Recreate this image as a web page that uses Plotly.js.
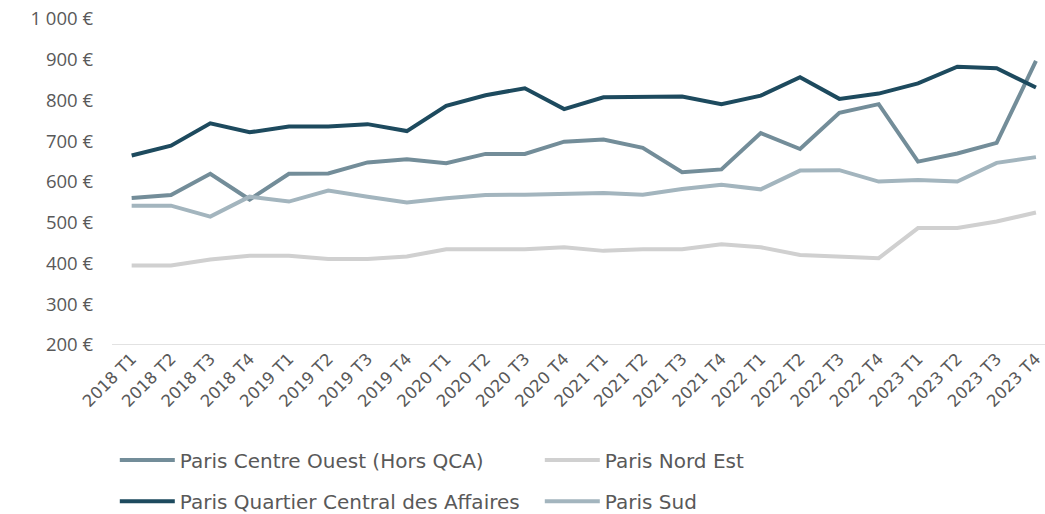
<!DOCTYPE html>
<html>
<head>
<meta charset="utf-8">
<script src="https://cdn.plot.ly/plotly-3.0.1.min.js"></script>
<style>html,body{margin:0;padding:0;background:#fff;}#chart{width:1045px;height:514px;}</style>
</head>
<body>
<div id="chart"></div>
<script>
const categories = ["2018 T1","2018 T2","2018 T3","2018 T4","2019 T1","2019 T2","2019 T3","2019 T4",
  "2020 T1","2020 T2","2020 T3","2020 T4","2021 T1","2021 T2","2021 T3","2021 T4",
  "2022 T1","2022 T2","2022 T3","2022 T4","2023 T1","2023 T2","2023 T3","2023 T4"];

const centreOuest = [561,568,620,557,620,621,648,656,646,669,669,699,704,684,624,631,720,681,770,791,650,670,696,897];
const nordEst     = [395,395,410,419,419,411,411,417,435,435,435,440,431,435,435,447,440,421,416,413,487,487,503,525];
const qca         = [665,689,744,722,736,736,742,725,787,813,830,779,808,809,810,791,812,857,804,817,842,883,879,832];
const sud         = [542,542,515,564,552,579,564,550,560,568,569,572,573,569,583,593,582,628,629,601,605,601,647,661];

const yTickVals = [200,300,400,500,600,700,800,900,1000];
const yTickText = ["200 €","300 €","400 €","500 €","600 €","700 €","800 €","900 €","1 000 €"];

const seriesNames = ["Paris Centre Ouest (Hors QCA)","Paris Nord Est","Paris Quartier Central des Affaires","Paris Sud"];
const colors = ["#738d99","#d0d0d0","#1d4a5e","#a3b5be"];

const xIdx = categories.map((c,i)=>i);
function tr(y, k, leg){
  return {x:xIdx, y:y, type:'scatter', mode:'lines', name:seriesNames[k],
    line:{color:colors[k], width:4}, legend:leg, hoverinfo:'skip'};
}
const data = [tr(centreOuest,0,'legend'), tr(nordEst,1,'legend'), tr(qca,2,'legend2'), tr(sud,3,'legend2')];

const font = {family:'"Open Sans", "DejaVu Sans", sans-serif', color:'#595959'};
const legBase = {orientation:'h', xanchor:'left', yanchor:'middle', yref:'container', x:0.003,
  entrywidth:355, entrywidthmode:'pixels', itemwidth:55,
  font:{family:'"DejaVu Sans", sans-serif', color:'#595959', size:20}, bgcolor:'rgba(0,0,0,0)'};

const layout = {
  width:1045, height:514,
  margin:{l:112, r:0, t:19, b:169},
  paper_bgcolor:'#fff', plot_bgcolor:'#fff',
  font:font,
  showlegend:true,
  xaxis:{range:[-0.5, 23.23], tickvals:xIdx, ticktext:categories, tickangle:-45, ticklabeloverflow:'allow',
    automargin:false, showgrid:false, zeroline:false, showline:false, ticks:'',
    tickfont:{family:'"DejaVu Sans", sans-serif', size:16.5, color:'#595959'}, fixedrange:true},
  yaxis:{range:[200,1000], tickvals:yTickVals, ticktext:yTickText, showgrid:false, zeroline:false,
    automargin:false, showline:false, ticks:'', ticklen:0, ticklabelstandoff:18, tickfont:{size:18.5, color:'#595959'}, fixedrange:true},
  shapes:[{type:'line', xref:'paper', yref:'y', x0:0, x1:1, y0:200, y1:200, line:{color:'#d9d9d9', width:1.5}, layer:'below'}],
  legend:Object.assign({}, legBase, {y:0.105}),
  legend2:Object.assign({}, legBase, {y:0.025})
};
Plotly.newPlot('chart', data, layout, {displayModeBar:false, staticPlot:true});
</script>
</body>
</html>
